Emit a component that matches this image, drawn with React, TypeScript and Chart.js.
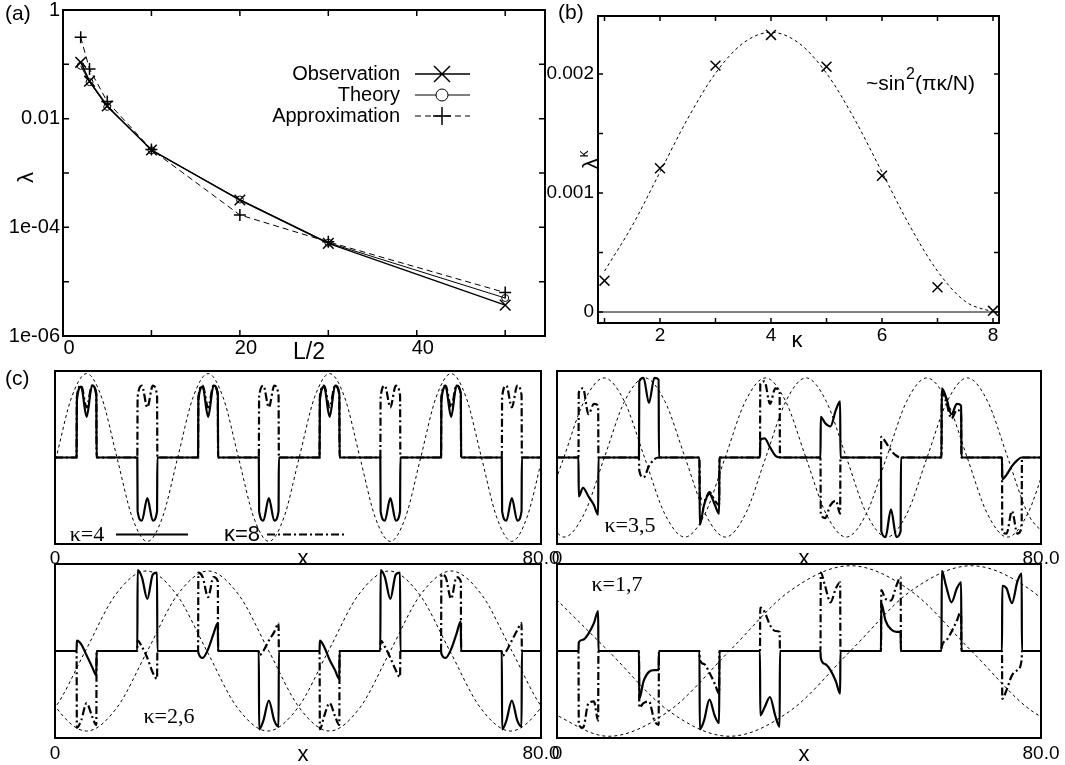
import React, { useEffect, useRef } from "react";
import { Chart, registerables } from "chart.js";

Chart.register(...registerables);

const PAGE_W = 1065;
const PAGE_H = 765;
const SANS = '"Liberation Sans", Arial, Helvetica, sans-serif';
const SERIF = '"Liberation Serif", "Times New Roman", serif';

// ---------------- Panel (a) ----------------
const A_HALF_L = [2, 3, 5, 10, 20, 30, 50];
const A_OBSERVATION = [0.109, 0.049, 0.0171, 0.00265, 3.18e-4, 5.07e-5, 3.7e-6];
const A_THEORY = [0.094, 0.047, 0.0165, 0.00262, 3.25e-4, 5.2e-5, 5.0e-6];
const A_APPROX = [0.314, 0.082, 0.0206, 0.0027, 1.69e-4, 5.4e-5, 6.3e-6];
const A_X_LABEL_TICKS = [0, 20, 40];
const A_X_MINOR_TICKS = [0, 10, 20, 30, 40, 50];
const A_Y_LABEL_TICKS = [1e-6, 1e-4, 1e-2, 1];
const A_Y_LABELS = ["1e-06", "1e-04", "0.01", "1"];
const A_Y_MINOR_TICKS = [1e-6, 1e-5, 1e-4, 1e-3, 1e-2, 1e-1, 1];
const A_LEGEND = ["Observation", "Theory", "Approximation"];

// ---------------- Panel (b) ----------------
const B_KAPPA = [1, 2, 3, 4, 5, 6, 7, 8];
const B_LAMBDA = [0.000263, 0.001208, 0.00207, 0.002328, 0.002061, 0.001145, 0.000208, 0.00001];
const B_FIT_KAPPA = [1, 1.5, 2, 2.5, 3, 3.5, 4, 4.5, 5, 5.5, 6, 6.5, 7, 7.5, 8];
const B_FIT = [0.000344, 0.000725, 0.001175, 0.001625, 0.002006, 0.00226, 0.00235, 0.00226, 0.002006, 0.001625, 0.001175, 0.000725, 0.000344, 0.000089, 0];
const B_X_LABEL_TICKS = [2, 4, 6, 8];
const B_X_MINOR_TICKS = [1, 2, 3, 4, 5, 6, 7, 8];
const B_Y_LABEL_TICKS = [0, 0.001, 0.002];
const B_Y_LABELS = ["0", "0.001", "0.002"];
const B_Y_MINOR_TICKS = [0, 0.0005, 0.001, 0.0015, 0.002];

// ---------------- Panel (c) ----------------
const C_X_TICKS = [0, 80];
const C_X_LABELS = ["0", "80.0"];
const SITES = [5.2, 15.2, 25.2, 35.2, 45.2, 55.2, 65.2, 75.2];
const PULSE_OFFSETS = [-1.65, -1.6, -0.9, 0, 0.9, 1.6, 1.65];

// κ=4 / κ=8
const S1_ENV_X = [-2.3, 0.2, 2.7, 5.2, 7.7, 10.2, 12.7, 15.2, 17.7, 20.2, 22.7, 25.2, 27.7, 30.2, 32.7, 35.2, 37.7, 40.2, 42.7, 45.2, 47.7, 50.2, 52.7, 55.2, 57.7, 60.2, 62.7, 65.2, 67.7, 70.2, 72.7, 75.2, 77.7, 80.2, 82.7];
const S1_ENV_Y = [-0.69, 0, 0.69, 0.97, 0.69, 0, -0.69, -0.97, -0.69, 0, 0.69, 0.97, 0.69, 0, -0.69, -0.97, -0.69, 0, 0.69, 0.97, 0.69, 0, -0.69, -0.97, -0.69, 0, 0.69, 0.97, 0.69, 0, -0.69, -0.97, -0.69, 0, 0.69];
const S1_K4 = [
  [0.66, 0.82, 0.47, 0.83, 0.74],
  [-0.62, -0.73, -0.47, -0.73, -0.62],
  [0.66, 0.82, 0.47, 0.83, 0.74],
  [-0.62, -0.73, -0.47, -0.73, -0.62],
  [0.66, 0.82, 0.47, 0.83, 0.74],
  [-0.62, -0.73, -0.47, -0.73, -0.62],
  [0.66, 0.82, 0.47, 0.83, 0.74],
  [-0.62, -0.73, -0.47, -0.73, -0.62],
];
const S1_K8 = [
  [0.7, 0.83, 0.58, 0.83, 0.72],
  [0.7, 0.83, 0.58, 0.83, 0.72],
  [0.7, 0.83, 0.58, 0.83, 0.72],
  [0.7, 0.83, 0.58, 0.83, 0.72],
  [0.7, 0.83, 0.58, 0.83, 0.72],
  [0.7, 0.83, 0.58, 0.83, 0.72],
  [0.7, 0.83, 0.58, 0.83, 0.72],
  [0.7, 0.83, 0.58, 0.83, 0.72],
];

// κ=3 / κ=5
const S2_ENV_A_X = [-2.2, 1.13, 4.47, 7.8, 11.13, 14.47, 17.8, 21.13, 24.47, 27.8, 31.13, 34.47, 37.8, 41.13, 44.47, 47.8, 51.13, 54.47, 57.8, 61.13, 64.47, 67.8, 71.13, 74.47, 77.8, 81.13];
const S2_ENV_A_Y = [-0.65, 0, 0.65, 0.92, 0.65, 0, -0.65, -0.92, -0.65, 0, 0.65, 0.92, 0.65, 0, -0.65, -0.92, -0.65, 0, 0.65, 0.92, 0.65, 0, -0.65, -0.92, -0.65, 0];
const S2_ENV_B_X = [-2.17, 1.17, 4.5, 7.83, 11.17, 14.5, 17.83, 21.17, 24.5, 27.83, 31.17, 34.5, 37.83, 41.17, 44.5, 47.83, 51.17, 54.5, 57.83, 61.17, 64.5, 67.83, 71.17, 74.5, 77.83, 81.17];
const S2_ENV_B_Y = [-0.65, -0.92, -0.65, 0, 0.65, 0.92, 0.65, 0, -0.65, -0.92, -0.65, 0, 0.65, 0.92, 0.65, 0, -0.65, -0.92, -0.65, 0, 0.65, 0.92, 0.65, 0, -0.65, -0.92];
const S2_K3 = [
  [-0.45, -0.35, -0.45, -0.55, -0.66],
  [0.88, 0.92, 0.63, 0.92, 0.9],
  [-0.78, -0.55, -0.42, -0.55, -0.65],
  [0.2, 0.22, 0.12, 0.02, 0],
  [0.47, 0.4, 0.36, 0.55, 0.65],
  [-0.85, -0.92, -0.6, -0.92, -0.85],
  [0.8, 0.7, 0.5, 0.62, 0.6],
  [-0.25, -0.2, -0.1, -0.03, 0],
];
const S2_K5 = [
  [0.75, 0.8, 0.5, 0.62, 0.6],
  [-0.15, -0.23, -0.1, -0.02, 0],
  [-0.45, -0.5, -0.4, -0.5, -0.55],
  [0.85, 0.88, 0.62, 0.8, 0.75],
  [-0.65, -0.7, -0.55, -0.5, -0.65],
  [0.24, 0.18, 0.08, 0.02, 0],
  [0.75, 0.65, 0.45, 0.55, 0.5],
  [-0.85, -0.88, -0.62, -0.88, -0.8],
];

// κ=2 / κ=6
const S3_ENV_A_X = [-5, 0, 5, 10, 15, 20, 25, 30, 35, 40, 45, 50, 55, 60, 65, 70, 75, 80, 85];
const S3_ENV_A_Y = [-0.92, -0.65, 0, 0.65, 0.92, 0.65, 0, -0.65, -0.92, -0.65, 0, 0.65, 0.92, 0.65, 0, -0.65, -0.92, -0.65, 0];
const S3_ENV_B_X = [-4.8, 0.2, 5.2, 10.2, 15.2, 20.2, 25.2, 30.2, 35.2, 40.2, 45.2, 50.2, 55.2, 60.2, 65.2, 70.2, 75.2, 80.2, 85.2];
const S3_ENV_B_Y = [0, -0.65, -0.92, -0.65, 0, 0.65, 0.92, 0.65, 0, -0.65, -0.92, -0.65, 0, 0.65, 0.92, 0.65, 0, -0.65, -0.92];
const S3_K2 = [
  [0.12, 0.08, -0.05, -0.18, -0.28],
  [0.93, 0.85, 0.6, 0.88, 0.9],
  [-0.02, -0.08, 0.02, 0.2, 0.32],
  [-0.9, -0.8, -0.57, -0.8, -0.87],
  [0.12, 0.05, -0.1, -0.22, -0.32],
  [0.93, 0.85, 0.6, 0.88, 0.9],
  [-0.03, -0.08, 0.02, 0.2, 0.34],
  [-0.9, -0.8, -0.57, -0.8, -0.87],
];
const S3_K6 = [
  [-0.88, -0.8, -0.6, -0.75, -0.85],
  [0.12, 0.05, -0.08, -0.25, -0.32],
  [0.9, 0.85, 0.62, 0.85, 0.8],
  [-0.05, 0.0, 0.12, 0.22, 0.32],
  [-0.9, -0.75, -0.6, -0.75, -0.85],
  [0.12, 0.05, -0.08, -0.22, -0.3],
  [0.88, 0.85, 0.6, 0.85, 0.8],
  [-0.06, 0.0, 0.12, 0.24, 0.32],
];

// κ=1 / κ=7
const S4_ENV_X = [-1.5, 8.5, 18.5, 28.5, 38.5, 48.5, 58.5, 68.5, 78.5, 88.5];
const S4_ENV_C_Y = [0.69, 0, -0.69, -0.98, -0.69, 0, 0.69, 0.98, 0.69, 0];
const S4_ENV_D_Y = [-0.69, -0.98, -0.69, 0, 0.69, 0.98, 0.69, 0, -0.69, -0.98];
const S4_K1 = [
  [0.1, 0.13, 0.2, 0.32, 0.46],
  [-0.55, -0.35, -0.24, -0.22, -0.22],
  [-0.9, -0.8, -0.56, -0.75, -0.83],
  [-0.74, -0.65, -0.53, -0.75, -0.87],
  [-0.08, -0.15, -0.22, -0.35, -0.49],
  [0.55, 0.35, 0.25, 0.22, 0.22],
  [0.92, 0.75, 0.56, 0.72, 0.79],
  [0.75, 0.72, 0.55, 0.8, 0.89],
];
const S4_K7 = [
  [-0.85, -0.88, -0.6, -0.58, -0.8],
  [-0.65, -0.6, -0.58, -0.8, -0.85],
  [-0.1, -0.15, -0.25, -0.38, -0.49],
  [0.5, 0.45, 0.3, 0.23, 0.22],
  [0.9, 0.75, 0.56, 0.72, 0.79],
  [0.7, 0.6, 0.58, 0.75, 0.85],
  [0.05, 0.12, 0.22, 0.35, 0.46],
  [-0.55, -0.45, -0.28, -0.22, -0.1],
];

// ---------------- helpers ----------------
type Pt = { x: number; y: number };
const zip = (xs: number[], ys: number[]): Pt[] => xs.map((x, i) => ({ x, y: ys[i] }));

function pulseSeries(vals: number[][]): Pt[] {
  const pts: Pt[] = [{ x: 0, y: 0 }];
  SITES.forEach((c, i) => {
    PULSE_OFFSETS.forEach((o, j) => {
      const y = j === 0 || j === PULSE_OFFSETS.length - 1 ? 0 : vals[i][j - 1];
      pts.push({ x: c + o, y });
    });
  });
  pts.push({ x: 80, y: 0 });
  return pts;
}

function framePlugin(width: number) {
  return {
    id: "frame",
    afterDraw(chart: any) {
      const { ctx, chartArea: a } = chart;
      ctx.save();
      ctx.strokeStyle = "#000";
      ctx.lineWidth = width;
      ctx.strokeRect(a.left, a.top, a.right - a.left, a.bottom - a.top);
      ctx.restore();
    },
  };
}

function inwardTicksPlugin(xs: number[], ys: number[], len: number) {
  return {
    id: "inTicks",
    afterDraw(chart: any) {
      const { ctx, chartArea: a, scales } = chart;
      ctx.save();
      ctx.strokeStyle = "#000";
      ctx.lineWidth = 1.5;
      ctx.beginPath();
      xs.forEach((v) => {
        const p = scales.x.getPixelForValue(v);
        ctx.moveTo(p, a.top);
        ctx.lineTo(p, a.top + len);
        ctx.moveTo(p, a.bottom);
        ctx.lineTo(p, a.bottom - len);
      });
      ys.forEach((v) => {
        const p = scales.y.getPixelForValue(v);
        ctx.moveTo(a.left, p);
        ctx.lineTo(a.left + len, p);
        ctx.moveTo(a.right, p);
        ctx.lineTo(a.right - len, p);
      });
      ctx.stroke();
      ctx.restore();
    },
  };
}

function overlayPlugin(draw: (ctx: CanvasRenderingContext2D, chart: any) => void) {
  return {
    id: "overlay",
    afterDraw(chart: any) {
      const ctx = chart.ctx;
      ctx.save();
      ctx.fillStyle = "#000";
      ctx.strokeStyle = "#000";
      draw(ctx, chart);
      ctx.restore();
    },
  };
}

function text(ctx: CanvasRenderingContext2D, s: string, x: number, y: number, font: string, align: CanvasTextAlign = "left", baseline: CanvasTextBaseline = "middle") {
  ctx.font = font;
  ctx.textAlign = align;
  ctx.textBaseline = baseline;
  ctx.fillText(s, x, y);
}

function rotText(ctx: CanvasRenderingContext2D, s: string, x: number, y: number, font: string) {
  ctx.save();
  ctx.translate(x, y);
  ctx.rotate(-Math.PI / 2);
  ctx.font = font;
  ctx.textAlign = "left";
  ctx.textBaseline = "alphabetic";
  ctx.fillText(s, 0, 0);
  ctx.restore();
}

const baseOpts = (box: { l: number; t: number; r: number; b: number }, padLeft: number, xAxisH: number) => ({
  responsive: false,
  animation: false,
  events: [],
  devicePixelRatio: 1,
  layout: { padding: { left: padLeft, top: box.t, right: PAGE_W - box.r, bottom: PAGE_H - box.b - xAxisH } },
  plugins: { legend: { display: false }, tooltip: { enabled: false } },
});

// ---------------- configs ----------------
function configA(): any {
  const box = { l: 63, t: 10, r: 545, b: 336 };
  return {
    type: "line",
    data: {
      datasets: [
        {
          data: zip(A_HALF_L, A_OBSERVATION),
          borderColor: "#000",
          borderWidth: 1.5,
          pointStyle: "crossRot",
          pointRadius: 7.5,
          pointBorderWidth: 1.5,
          pointBorderColor: "#000",
          pointBackgroundColor: "rgba(0,0,0,0)",
          tension: 0,
        },
        {
          data: zip(A_HALF_L, A_THEORY),
          borderColor: "#000",
          borderWidth: 1,
          pointStyle: "circle",
          pointRadius: 3.5,
          pointBorderWidth: 1,
          pointBorderColor: "#000",
          pointBackgroundColor: "rgba(0,0,0,0)",
          tension: 0,
        },
        {
          data: zip(A_HALF_L, A_APPROX),
          borderColor: "#000",
          borderWidth: 1,
          borderDash: [6, 4],
          pointStyle: "cross",
          pointRadius: 6,
          pointBorderWidth: 1.5,
          pointBorderColor: "#000",
          tension: 0,
        },
      ],
    },
    options: {
      ...baseOpts(box, 0, 30),
      scales: {
        x: {
          type: "linear",
          min: 0,
          max: 54.5,
          grid: { display: false, drawTicks: false },
          border: { display: false },
          ticks: { font: { family: SANS, size: 20 }, color: "#000", padding: 0, maxRotation: 0, autoSkip: false, labelOffset: 6, callback: (v: number) => String(v) },
          afterBuildTicks: (s: any) => { s.ticks = A_X_LABEL_TICKS.map((v) => ({ value: v })); },
          afterFit: (s: any) => { s.height = 30; s.paddingLeft = 0; s.paddingRight = 0; },
        },
        y: {
          type: "logarithmic",
          min: 1e-6,
          max: 1,
          grid: { display: false, drawTicks: false },
          border: { display: false },
          ticks: { font: { family: SANS, size: 20 }, color: "#000", padding: 3, autoSkip: false, callback: (_v: number, i: number) => A_Y_LABELS[i] },
          afterBuildTicks: (s: any) => { s.ticks = A_Y_LABEL_TICKS.map((v) => ({ value: v })); },
          afterFit: (s: any) => { s.width = box.l; s.paddingTop = 0; s.paddingBottom = 0; },
        },
      },
    },
    plugins: [
      inwardTicksPlugin(A_X_MINOR_TICKS, A_Y_MINOR_TICKS, 6),
      framePlugin(2),
      overlayPlugin((ctx) => {
        text(ctx, "(a)", 5, 14, `21px ${SANS}`);
        rotText(ctx, "λ", 33, 183, `22px ${SANS}`);
        text(ctx, "L/2", 309, 359, `23px ${SANS}`, "center", "alphabetic");
        const rows = [74, 95, 116];
        A_LEGEND.forEach((t, i) => text(ctx, t, 400, rows[i], `20px ${SANS}`, "right", "middle"));
        // legend samples
        ctx.lineWidth = 1.5;
        ctx.beginPath();
        ctx.moveTo(415, rows[0]); ctx.lineTo(470, rows[0]);
        ctx.moveTo(434, rows[0] - 8); ctx.lineTo(450, rows[0] + 8);
        ctx.moveTo(434, rows[0] + 8); ctx.lineTo(450, rows[0] - 8);
        ctx.stroke();
        ctx.lineWidth = 1;
        ctx.beginPath();
        ctx.moveTo(415, rows[1]); ctx.lineTo(436, rows[1]);
        ctx.moveTo(448, rows[1]); ctx.lineTo(470, rows[1]);
        ctx.stroke();
        ctx.beginPath();
        ctx.arc(442, rows[1], 6, 0, Math.PI * 2);
        ctx.stroke();
        ctx.setLineDash([6, 4]);
        ctx.beginPath();
        ctx.moveTo(415, rows[2]); ctx.lineTo(470, rows[2]);
        ctx.stroke();
        ctx.setLineDash([]);
        ctx.lineWidth = 1.5;
        ctx.beginPath();
        ctx.moveTo(433, rows[2]); ctx.lineTo(451, rows[2]);
        ctx.moveTo(442, rows[2] - 9); ctx.lineTo(442, rows[2] + 9);
        ctx.stroke();
      }),
    ],
  };
}

function configB(): any {
  const box = { l: 598, t: 16, r: 999, b: 323 };
  return {
    type: "line",
    data: {
      datasets: [
        {
          data: zip(B_KAPPA, B_LAMBDA),
          showLine: false,
          pointStyle: "crossRot",
          pointRadius: 7,
          pointBorderWidth: 1.5,
          pointBorderColor: "#000",
          order: 1,
        },
        {
          data: zip(B_FIT_KAPPA, B_FIT),
          borderColor: "#000",
          borderWidth: 1,
          borderDash: [3, 3],
          pointRadius: 0,
          cubicInterpolationMode: "monotone",
          order: 2,
        },
      ],
    },
    options: {
      ...baseOpts(box, 0, 30),
      scales: {
        x: {
          type: "linear",
          min: 0.883,
          max: 8.108,
          grid: { display: false, drawTicks: false },
          border: { display: false },
          ticks: { font: { family: SANS, size: 19 }, color: "#000", padding: 1, maxRotation: 0, autoSkip: false, callback: (v: number) => String(v) },
          afterBuildTicks: (s: any) => { s.ticks = B_X_LABEL_TICKS.map((v) => ({ value: v })); },
          afterFit: (s: any) => { s.height = 30; s.paddingLeft = 0; s.paddingRight = 0; },
        },
        y: {
          type: "linear",
          min: -0.0000924,
          max: 0.002487,
          grid: { display: false, drawTicks: false },
          border: { display: false },
          ticks: { font: { family: SANS, size: 19 }, color: "#000", padding: 4, autoSkip: false, callback: (_v: number, i: number) => B_Y_LABELS[i] },
          afterBuildTicks: (s: any) => { s.ticks = B_Y_LABEL_TICKS.map((v) => ({ value: v })); },
          afterFit: (s: any) => { s.width = box.l; s.paddingTop = 0; s.paddingBottom = 0; },
        },
      },
    },
    plugins: [
      {
        id: "zeroLine",
        beforeDatasetsDraw(chart: any) {
          const { ctx, chartArea: a, scales } = chart;
          const y = scales.y.getPixelForValue(0);
          ctx.save();
          ctx.strokeStyle = "#000";
          ctx.lineWidth = 1;
          ctx.beginPath();
          ctx.moveTo(a.left, y);
          ctx.lineTo(a.right, y);
          ctx.stroke();
          ctx.restore();
        },
      },
      inwardTicksPlugin(B_X_MINOR_TICKS, B_Y_MINOR_TICKS, 5),
      framePlugin(2),
      overlayPlugin((ctx) => {
        text(ctx, "(b)", 558, 13, `21px ${SANS}`);
        text(ctx, "κ", 797, 347, `22px ${SANS}`, "center", "alphabetic");
        // rotated λ^κ
        ctx.save();
        ctx.translate(597, 169);
        ctx.rotate(-Math.PI / 2);
        ctx.font = `21px ${SANS}`;
        ctx.textAlign = "left";
        ctx.textBaseline = "alphabetic";
        ctx.fillText("λ", 0, 0);
        const w = ctx.measureText("λ").width;
        ctx.font = `14px ${SANS}`;
        ctx.fillText("κ", w + 1, -9);
        ctx.restore();
        // ~sin²(πκ/N)
        let x = 866;
        const base = 90;
        text(ctx, "~sin", x, base, `21px ${SANS}`, "left", "alphabetic");
        x += ctx.measureText("~sin").width + 1;
        text(ctx, "2", x, base - 11, `16px ${SANS}`, "left", "alphabetic");
        x += ctx.measureText("2").width;
        text(ctx, "(πκ/N)", x, base, `21px ${SANS}`, "left", "alphabetic");
      }),
    ],
  };
}

function waveConfig(
  box: { l: number; t: number; r: number; b: number },
  envs: Pt[][],
  solid: number[][],
  dashdot: number[][],
  labelPad: number,
  xBase: number,
  extra: (ctx: CanvasRenderingContext2D) => void
): any {
  return {
    type: "line",
    data: {
      datasets: [
        ...envs.map((e) => ({
          data: e,
          borderColor: "#000",
          borderWidth: 1,
          borderDash: [3, 3],
          pointRadius: 0,
          cubicInterpolationMode: "monotone",
          order: 3,
        })),
        {
          data: pulseSeries(dashdot),
          borderColor: "#000",
          borderWidth: 2.2,
          borderDash: [8, 3, 2, 3],
          pointRadius: 0,
          cubicInterpolationMode: "monotone",
          order: 2,
        },
        {
          data: pulseSeries(solid),
          borderColor: "#000",
          borderWidth: 2.2,
          pointRadius: 0,
          cubicInterpolationMode: "monotone",
          order: 1,
        },
      ],
    },
    options: {
      ...baseOpts(box, box.l, 30),
      scales: {
        x: {
          type: "linear",
          min: 0,
          max: 80,
          grid: { display: false, drawTicks: false },
          border: { display: false },
          ticks: { font: { family: SANS, size: 19 }, color: "#000", padding: labelPad, maxRotation: 0, autoSkip: false, callback: (_v: number, i: number) => C_X_LABELS[i] },
          afterBuildTicks: (s: any) => { s.ticks = C_X_TICKS.map((v) => ({ value: v })); },
          afterFit: (s: any) => { s.height = 30; s.paddingLeft = 0; s.paddingRight = 0; },
        },
        y: { display: false, min: -1, max: 1 },
      },
    },
    plugins: [
      framePlugin(2),
      overlayPlugin((ctx) => {
        text(ctx, "x", (box.l + box.r) / 2 + 5, xBase, `22px ${SANS}`, "center", "alphabetic");
        extra(ctx);
      }),
    ],
  };
}

export default function App() {
  const refs = useRef<(HTMLCanvasElement | null)[]>([]);

  useEffect(() => {
    const top = { t: 371, b: 544 };
    const bot = { t: 564, b: 738 };
    const left = { l: 55, r: 541 };
    const right = { l: 557, r: 1041 };
    const configs = [
      configA(),
      configB(),
      waveConfig({ ...left, ...top }, [zip(S1_ENV_X, S1_ENV_Y)], S1_K4, S1_K8, 3, 565, (ctx) => {
        text(ctx, "(c)", 5, 379, `21px ${SANS}`);
        text(ctx, "κ=4", 87, 535, `22px ${SERIF}`, "center");
        ctx.lineWidth = 2;
        ctx.beginPath();
        ctx.moveTo(116, 534.5);
        ctx.lineTo(188, 534.5);
        ctx.stroke();
        text(ctx, "κ=8", 242, 535, `22px ${SANS}`, "center");
        ctx.setLineDash([8, 3, 2, 3]);
        ctx.beginPath();
        ctx.moveTo(267, 534.5);
        ctx.lineTo(345, 534.5);
        ctx.stroke();
        ctx.setLineDash([]);
      }),
      waveConfig({ ...right, ...top }, [zip(S2_ENV_A_X, S2_ENV_A_Y), zip(S2_ENV_B_X, S2_ENV_B_Y)], S2_K3, S2_K5, 3, 565, (ctx) => {
        text(ctx, "κ=3,5", 630, 526, `22px ${SERIF}`, "center");
      }),
      waveConfig({ ...left, ...bot }, [zip(S3_ENV_A_X, S3_ENV_A_Y), zip(S3_ENV_B_X, S3_ENV_B_Y)], S3_K2, S3_K6, 4, 761, (ctx) => {
        text(ctx, "κ=2,6", 169, 717, `22px ${SERIF}`, "center");
      }),
      waveConfig({ ...right, ...bot }, [zip(S4_ENV_X, S4_ENV_C_Y), zip(S4_ENV_X, S4_ENV_D_Y)], S4_K1, S4_K7, 4, 761, (ctx) => {
        text(ctx, "κ=1,7", 617, 585, `22px ${SERIF}`, "center");
      }),
    ];
    const charts = configs.map((cfg, i) => new Chart(refs.current[i] as HTMLCanvasElement, cfg));
    return () => charts.forEach((c) => c.destroy());
  }, []);

  return (
    <div style={{ position: "absolute", left: 0, top: 0, width: PAGE_W, height: PAGE_H, background: "#fff", overflow: "hidden" }}>
      {[0, 1, 2, 3, 4, 5].map((i) => (
        <canvas
          key={i}
          ref={(el) => { refs.current[i] = el; }}
          width={PAGE_W}
          height={PAGE_H}
          style={{ position: "absolute", left: 0, top: 0, width: PAGE_W, height: PAGE_H }}
        />
      ))}
    </div>
  );
}
